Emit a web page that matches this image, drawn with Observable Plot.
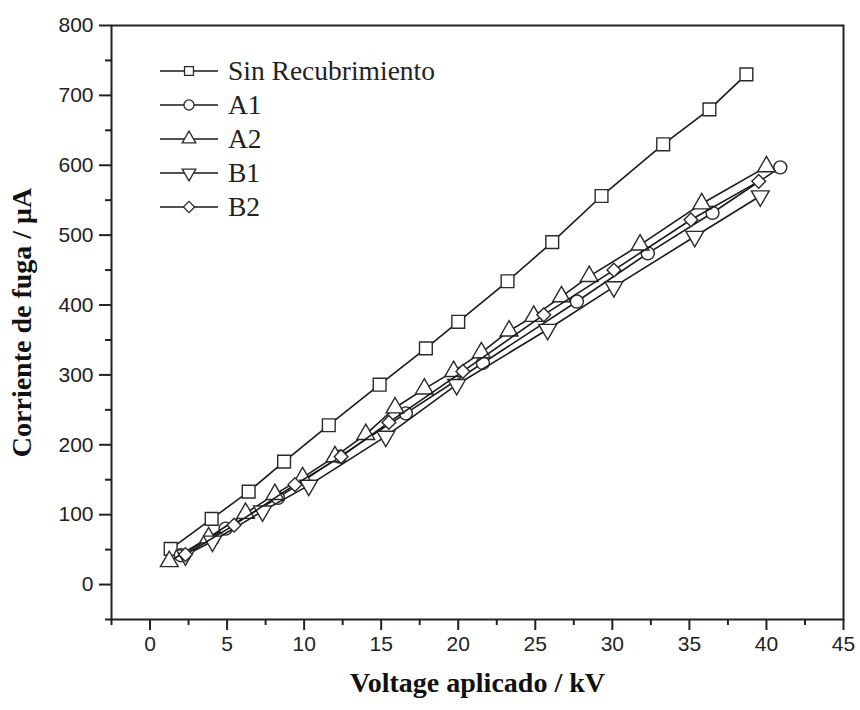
<!DOCTYPE html>
<html>
<head>
<meta charset="utf-8">
<script src="https://cdn.jsdelivr.net/npm/d3@7"></script>
<script src="https://cdn.jsdelivr.net/npm/@observablehq/plot@0.6"></script>
<style>
  body { margin: 0; background: #fff; }
  #wrap { position: relative; width: 860px; height: 710px; }
  #legend { position: absolute; left: 160px; top: 54px; font-family: "Liberation Serif", serif; font-size: 27.5px; color: #222; }
  #legend .row { display: flex; align-items: center; height: 34px; }
  #legend svg { margin-right: 8px; }
</style>
</head>
<body>
<div id="wrap"></div>
<script>
// ---- data ----
const seriesNames = ["Sin Recubrimiento", "A1", "A2", "B1", "B2"];

const sinX = [1.34, 4.0, 6.4, 8.7, 11.6, 14.9, 17.9, 20.0, 23.2, 26.1, 29.3, 33.3, 36.3, 38.7];
const sinY = [51, 94, 133, 176, 228, 286, 338, 376, 434, 490, 556, 630, 680, 730];

const a1X = [2.0, 4.9, 8.3, 12.3, 16.6, 21.6, 27.7, 32.3, 36.5, 40.9];
const a1Y = [42, 80, 124, 183, 245, 317, 405, 474, 532, 597];

const a2X = [1.25, 3.8, 6.2, 8.1, 9.9, 12.0, 14.0, 15.9, 17.8, 19.7, 21.5, 23.3, 24.9, 26.7, 28.5, 31.8, 35.8, 40.0];
const a2Y = [33, 67, 102, 129, 153, 183, 215, 253, 280, 305, 332, 363, 384, 412, 441, 486, 545, 598];

const b1X = [2.3, 4.05, 7.3, 10.3, 15.3, 19.9, 25.8, 30.1, 35.35, 39.6];
const b1Y = [42, 62, 105, 142, 212, 286, 365, 426, 498, 556];

const b2X = [2.3, 5.45, 9.4, 12.4, 15.5, 20.3, 25.55, 30.1, 35.1, 39.5];
const b2Y = [43, 85, 143, 183, 232, 305, 386, 450, 522, 577];

const xMajor = [0, 5, 10, 15, 20, 25, 30, 35, 40, 45];
const xMinor = [-2.5, 2.5, 7.5, 12.5, 17.5, 22.5, 27.5, 32.5, 37.5, 42.5];
const yMajor = [0, 100, 200, 300, 400, 500, 600, 700, 800];
const yMinor = [-50, 50, 150, 250, 350, 450, 550, 650, 750];

const xTitle = "Voltage aplicado / kV";
const yTitle = "Corriente de fuga / μA";

// ---- build tables ----
const toRows = (xs, ys, name) => xs.map((x, i) => ({x, y: ys[i], s: name}));
const sets = [
  {rows: toRows(sinX, sinY, seriesNames[0]), symbol: "square", r: 7.2, rotate: 0},
  {rows: toRows(a1X, a1Y, seriesNames[1]), symbol: "circle", r: 6.5, rotate: 0},
  {rows: toRows(a2X, a2Y, seriesNames[2]), symbol: "triangle", r: 6.6, rotate: 0},
  {rows: toRows(b1X, b1Y, seriesNames[3]), symbol: "triangle", r: 6.6, rotate: 180},
  {rows: toRows(b2X, b2Y, seriesNames[4]), symbol: "diamond2", r: 6.2, rotate: 0}
];

const marks = [];
for (const s of sets) {
  marks.push(Plot.line(s.rows, {x: "x", y: "y", stroke: "#1a1a1a", strokeWidth: 1.6}));
  marks.push(Plot.dot(s.rows, {x: "x", y: "y", symbol: () => s.symbol, r: s.r, rotate: s.rotate,
    fill: "white", stroke: "#2a2a2a", strokeWidth: 1.4}));
}

const tickFont = {fontFamily: "'Liberation Sans', Arial, sans-serif", fontSize: 21, fill: "#222"};

const chart = Plot.plot({
  width: 860,
  height: 710,
  marginLeft: 111,
  marginRight: 17,
  marginTop: 25,
  marginBottom: 91,
  style: {background: "white", color: "#222"},
  x: {domain: [-2.5, 45]},
  y: {domain: [-50, 800]},
  symbol: {type: "identity"},
  marks: [
    ...marks,
    Plot.axisX({ticks: xMajor, tickSize: 11, tickPadding: 6, strokeWidth: 2, label: null, ...tickFont}),
    Plot.axisX({ticks: xMinor, tickSize: 6, text: null, strokeWidth: 2, label: null}),
    Plot.axisY({ticks: yMajor, tickSize: 12, tickPadding: 6, strokeWidth: 2, label: null, ...tickFont}),
    Plot.axisY({ticks: yMinor, tickSize: 6, text: null, strokeWidth: 2, label: null}),
    Plot.frame({stroke: "#222", strokeWidth: 2}),
    Plot.text([xTitle], {text: d => d, frameAnchor: "bottom", dy: 72, textAnchor: "middle", fontFamily: "'Liberation Serif', serif",
      fontWeight: "bold", fontSize: 28, fill: "#111"}),
    Plot.text([yTitle], {text: d => d, frameAnchor: "left", dx: -89, rotate: -90, textAnchor: "middle", fontFamily: "'Liberation Serif', serif",
      fontWeight: "bold", fontSize: 28, fill: "#111"})
  ]
});

const wrap = document.getElementById("wrap");
wrap.appendChild(chart);

// ---- legend ----
const legend = document.createElement("div");
legend.id = "legend";
const symFor = {square: d3.symbolSquare, circle: d3.symbolCircle, triangle: d3.symbolTriangle, diamond2: d3.symbolDiamond2};
sets.forEach((s, i) => {
  const row = document.createElement("div");
  row.className = "row";
  const svg = d3.create("svg").attr("width", 60).attr("height", 30);
  svg.append("line").attr("x1", 0).attr("x2", 58).attr("y1", 15).attr("y2", 15).attr("stroke", "#1a1a1a").attr("stroke-width", 1.6);
  svg.append("path").attr("d", d3.symbol(symFor[s.symbol], 80)()).attr("transform", `translate(29,15) rotate(${s.rotate})`)
    .attr("fill", "white").attr("stroke", "#2a2a2a").attr("stroke-width", 1.3);
  row.appendChild(svg.node());
  const t = document.createElement("span");
  t.textContent = seriesNames[i];
  row.appendChild(t);
  legend.appendChild(row);
});
wrap.appendChild(legend);
</script>
</body>
</html>
